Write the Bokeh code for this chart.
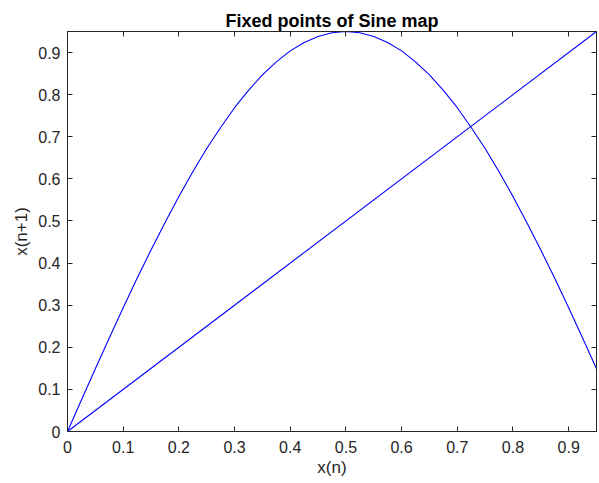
from bokeh.plotting import figure
from bokeh.models import Range1d, LinearAxis, FixedTicker
from bokeh.embed import file_html
from bokeh.resources import INLINE

# Sine map curve
xn = [0.0, 0.025, 0.05, 0.075, 0.1, 0.125, 0.15, 0.175, 0.2, 0.225, 0.25, 0.275,
      0.3, 0.325, 0.35, 0.375, 0.4, 0.425, 0.45, 0.475, 0.5, 0.525, 0.55, 0.575,
      0.6, 0.625, 0.65, 0.675, 0.7, 0.725, 0.75, 0.775, 0.8, 0.825, 0.85, 0.875,
      0.9, 0.925, 0.95]
xn1 = [0.0, 0.075, 0.149, 0.222, 0.294, 0.364, 0.431, 0.496, 0.558, 0.617, 0.672, 0.722,
       0.769, 0.810, 0.847, 0.878, 0.904, 0.924, 0.938, 0.947, 0.950, 0.947, 0.938, 0.924,
       0.904, 0.878, 0.847, 0.810, 0.769, 0.722, 0.672, 0.617, 0.558, 0.496, 0.431, 0.364,
       0.294, 0.222, 0.149]
# identity line x(n+1) = x(n)
diag_x = [0.0, 0.95]
diag_y = [0.0, 0.95]

tick_values = [0.0, 0.1, 0.2, 0.3, 0.4, 0.5, 0.6, 0.7, 0.8, 0.9]
tick_labels = ["0", "0.1", "0.2", "0.3", "0.4", "0.5", "0.6", "0.7", "0.8", "0.9"]

FONT = "Liberation Sans"
AX = "#262626"

p = figure(frame_width=529, frame_height=400, output_backend="svg", toolbar_location=None,
           x_range=Range1d(0, 0.95), y_range=Range1d(0, 0.95),
           title="Fixed points of Sine map",
           min_border_left=67, min_border_top=31, min_border_right=3, min_border_bottom=52)
p.width = 599
p.height = 483

p.title.align = "center"
p.title.text_font = FONT
p.title.text_font_size = "18px"
p.title.text_font_style = "bold"
p.title.text_color = "#000000"
p.title.standoff = 2

p.line(xn, xn1, line_color="#0000ff", line_width=1.1)
p.line(diag_x, diag_y, line_color="#0000ff", line_width=1.1)

p.grid.visible = False
p.outline_line_color = AX
p.outline_line_width = 1
p.background_fill_color = "white"
p.border_fill_color = "white"

overrides = {v: l for v, l in zip(tick_values, tick_labels)}

for ax in (p.xaxis[0], p.yaxis[0]):
    ax.ticker = FixedTicker(ticks=tick_values)
    ax.major_label_overrides = overrides
    ax.major_tick_in = 5
    ax.major_tick_out = 0
    ax.minor_tick_line_color = None
    ax.axis_line_color = AX
    ax.major_tick_line_color = AX
    ax.major_label_text_font = FONT
    ax.major_label_text_font_size = "16px"
    ax.major_label_text_color = AX
    ax.axis_label_text_font = FONT
    ax.axis_label_text_font_size = "17px"
    ax.axis_label_text_font_style = "normal"
    ax.axis_label_text_color = AX

p.xaxis[0].axis_label = "x(n)"
p.yaxis[0].axis_label = "x(n+1)"
p.xaxis[0].major_label_standoff = 9
p.yaxis[0].major_label_standoff = 7
p.xaxis[0].axis_label_standoff = 2
p.yaxis[0].axis_label_standoff = 4

for loc in ("above", "right"):
    a = LinearAxis(ticker=FixedTicker(ticks=tick_values))
    a.major_tick_in = 5
    a.major_tick_out = 0
    a.minor_tick_line_color = None
    a.axis_line_color = AX
    a.major_tick_line_color = AX
    a.major_label_text_font_size = "0px"
    a.major_label_standoff = 0
    a.major_label_overrides = {v: "" for v in tick_values}
    p.add_layout(a, loc)

open("out.html", "w").write(file_html(p, INLINE))
